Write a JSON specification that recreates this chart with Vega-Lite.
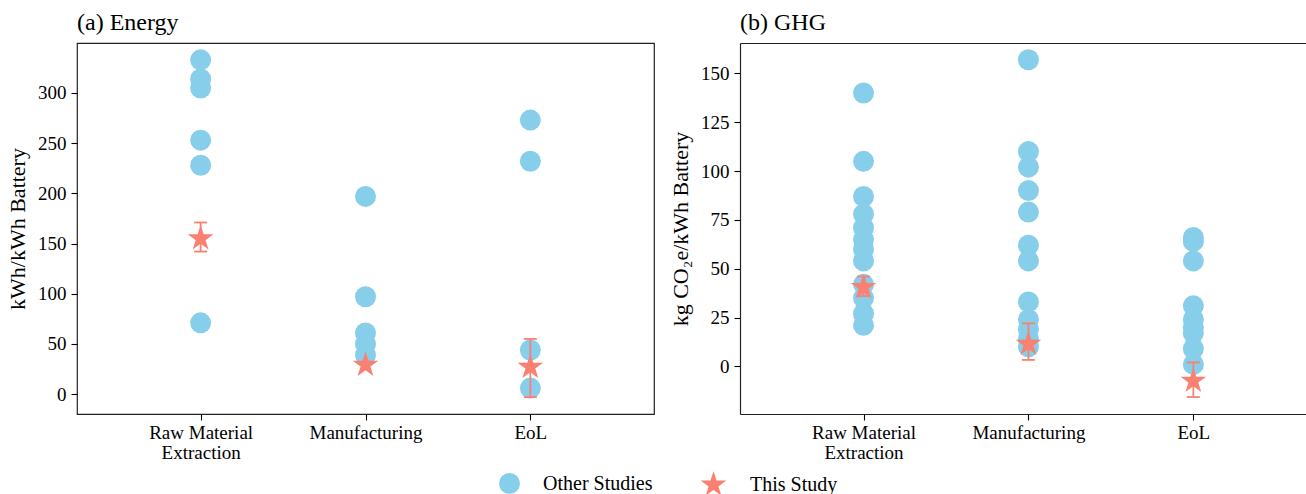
{
  "$schema": "https://vega.github.io/schema/vega-lite/v6.json",
  "background": "white",
  "autosize": {"type": "pad"},
  "padding": {"left": 5, "top": 10, "right": 0, "bottom": 0},
  "datasets": {
    "other": [
      {"panel": "Energy", "stage": "Raw Material Extraction", "value": 333, "source": "Other Studies"},
      {"panel": "Energy", "stage": "Raw Material Extraction", "value": 314, "source": "Other Studies"},
      {"panel": "Energy", "stage": "Raw Material Extraction", "value": 305, "source": "Other Studies"},
      {"panel": "Energy", "stage": "Raw Material Extraction", "value": 253, "source": "Other Studies"},
      {"panel": "Energy", "stage": "Raw Material Extraction", "value": 228, "source": "Other Studies"},
      {"panel": "Energy", "stage": "Raw Material Extraction", "value": 71, "source": "Other Studies"},
      {"panel": "Energy", "stage": "Manufacturing", "value": 197, "source": "Other Studies"},
      {"panel": "Energy", "stage": "Manufacturing", "value": 97, "source": "Other Studies"},
      {"panel": "Energy", "stage": "Manufacturing", "value": 61, "source": "Other Studies"},
      {"panel": "Energy", "stage": "Manufacturing", "value": 50, "source": "Other Studies"},
      {"panel": "Energy", "stage": "Manufacturing", "value": 39, "source": "Other Studies"},
      {"panel": "Energy", "stage": "EoL", "value": 273, "source": "Other Studies"},
      {"panel": "Energy", "stage": "EoL", "value": 232, "source": "Other Studies"},
      {"panel": "Energy", "stage": "EoL", "value": 44, "source": "Other Studies"},
      {"panel": "Energy", "stage": "EoL", "value": 6, "source": "Other Studies"},
      {"panel": "GHG", "stage": "Raw Material Extraction", "value": 140, "source": "Other Studies"},
      {"panel": "GHG", "stage": "Raw Material Extraction", "value": 105, "source": "Other Studies"},
      {"panel": "GHG", "stage": "Raw Material Extraction", "value": 87, "source": "Other Studies"},
      {"panel": "GHG", "stage": "Raw Material Extraction", "value": 78, "source": "Other Studies"},
      {"panel": "GHG", "stage": "Raw Material Extraction", "value": 71, "source": "Other Studies"},
      {"panel": "GHG", "stage": "Raw Material Extraction", "value": 65, "source": "Other Studies"},
      {"panel": "GHG", "stage": "Raw Material Extraction", "value": 60, "source": "Other Studies"},
      {"panel": "GHG", "stage": "Raw Material Extraction", "value": 54, "source": "Other Studies"},
      {"panel": "GHG", "stage": "Raw Material Extraction", "value": 42, "source": "Other Studies"},
      {"panel": "GHG", "stage": "Raw Material Extraction", "value": 35, "source": "Other Studies"},
      {"panel": "GHG", "stage": "Raw Material Extraction", "value": 27, "source": "Other Studies"},
      {"panel": "GHG", "stage": "Raw Material Extraction", "value": 21, "source": "Other Studies"},
      {"panel": "GHG", "stage": "Manufacturing", "value": 157, "source": "Other Studies"},
      {"panel": "GHG", "stage": "Manufacturing", "value": 110, "source": "Other Studies"},
      {"panel": "GHG", "stage": "Manufacturing", "value": 102, "source": "Other Studies"},
      {"panel": "GHG", "stage": "Manufacturing", "value": 90, "source": "Other Studies"},
      {"panel": "GHG", "stage": "Manufacturing", "value": 79, "source": "Other Studies"},
      {"panel": "GHG", "stage": "Manufacturing", "value": 62, "source": "Other Studies"},
      {"panel": "GHG", "stage": "Manufacturing", "value": 54, "source": "Other Studies"},
      {"panel": "GHG", "stage": "Manufacturing", "value": 33, "source": "Other Studies"},
      {"panel": "GHG", "stage": "Manufacturing", "value": 24, "source": "Other Studies"},
      {"panel": "GHG", "stage": "Manufacturing", "value": 19, "source": "Other Studies"},
      {"panel": "GHG", "stage": "Manufacturing", "value": 14, "source": "Other Studies"},
      {"panel": "GHG", "stage": "Manufacturing", "value": 10, "source": "Other Studies"},
      {"panel": "GHG", "stage": "EoL", "value": 66, "source": "Other Studies"},
      {"panel": "GHG", "stage": "EoL", "value": 64, "source": "Other Studies"},
      {"panel": "GHG", "stage": "EoL", "value": 54, "source": "Other Studies"},
      {"panel": "GHG", "stage": "EoL", "value": 31, "source": "Other Studies"},
      {"panel": "GHG", "stage": "EoL", "value": 24, "source": "Other Studies"},
      {"panel": "GHG", "stage": "EoL", "value": 20, "source": "Other Studies"},
      {"panel": "GHG", "stage": "EoL", "value": 17, "source": "Other Studies"},
      {"panel": "GHG", "stage": "EoL", "value": 9, "source": "Other Studies"},
      {"panel": "GHG", "stage": "EoL", "value": 1, "source": "Other Studies"}
    ],
    "this": [
      {"panel": "Energy", "stage": "Raw Material Extraction", "value": 155, "lo": 142, "hi": 171, "source": "This Study"},
      {"panel": "Energy", "stage": "Manufacturing", "value": 29, "lo": null, "hi": null, "source": "This Study"},
      {"panel": "Energy", "stage": "EoL", "value": 27, "lo": -3, "hi": 55, "source": "This Study"},
      {"panel": "GHG", "stage": "Raw Material Extraction", "value": 40.5, "lo": 36, "hi": 46, "source": "This Study"},
      {"panel": "GHG", "stage": "Manufacturing", "value": 11.5, "lo": 3.3, "hi": 22, "source": "This Study"},
      {"panel": "GHG", "stage": "EoL", "value": -7.5, "lo": -15.7, "hi": 2, "source": "This Study"}
    ]
  },
  "bounds": "flush",
  "spacing": 86,
  "resolve": {"scale": {"color": "shared", "shape": "shared", "size": "shared"}, "legend": {"color": "shared", "shape": "shared", "size": "shared"}},
  "hconcat": [
    {
      "width": 577,
      "height": 371,
      "title": {"text": "(a) Energy"},
      "layer": [
        {
          "data": {"name": "other"},
          "transform": [{"filter": "datum.panel === 'Energy'"}],
          "mark": {"type": "point", "filled": true, "opacity": 1, "strokeWidth": 0},
          "encoding": {
            "x": {"field": "stage", "type": "nominal", "sort": ["Raw Material Extraction", "Manufacturing", "EoL"], "scale": {"type": "point", "padding": 0.75}, "axis": {"title": null, "labelAngle": 0, "labelExpr": "datum.value === 'Raw Material Extraction' ? ['Raw Material', 'Extraction'] : datum.value"}},
            "y": {"field": "value", "type": "quantitative", "scale": {"domain": [-19.8, 349.8], "nice": false, "zero": false}, "axis": {"title": "kWh/kWh Battery", "values": [0, 50, 100, 150, 200, 250, 300]}},
            "color": {"field": "source", "type": "nominal", "scale": {"domain": ["Other Studies", "This Study"], "range": ["#87CEEB", "#FA8072"]}, "legend": {"title": null}},
            "shape": {"field": "source", "type": "nominal", "scale": {"domain": ["Other Studies", "This Study"], "range": ["circle", "M0,-1L-0.2245,-0.309L-0.9511,-0.309L-0.3633,0.118L-0.5878,0.809L0,0.382L0.5878,0.809L0.3633,0.118L0.9511,-0.309L0.2245,-0.309Z"]}, "legend": {"title": null}},
            "size": {"field": "source", "type": "nominal", "scale": {"domain": ["Other Studies", "This Study"], "range": [441, 729]}, "legend": {"title": null}}
          }
        },
        {
          "data": {"name": "this"},
          "transform": [{"filter": "datum.panel === 'Energy' && datum.lo != null"}],
          "mark": {"type": "rule", "color": "#FA8072", "strokeWidth": 1.8},
          "encoding": {
            "x": {"field": "stage", "type": "nominal", "sort": ["Raw Material Extraction", "Manufacturing", "EoL"]},
            "y": {"field": "lo", "type": "quantitative"},
            "y2": {"field": "hi"}
          }
        },
        {
          "data": {"name": "this"},
          "transform": [{"filter": "datum.panel === 'Energy' && datum.lo != null"}],
          "mark": {"type": "tick", "color": "#FA8072", "thickness": 1.8, "size": 13, "opacity": 1},
          "encoding": {
            "x": {"field": "stage", "type": "nominal", "sort": ["Raw Material Extraction", "Manufacturing", "EoL"]},
            "y": {"field": "lo", "type": "quantitative"}
          }
        },
        {
          "data": {"name": "this"},
          "transform": [{"filter": "datum.panel === 'Energy' && datum.hi != null"}],
          "mark": {"type": "tick", "color": "#FA8072", "thickness": 1.8, "size": 13, "opacity": 1},
          "encoding": {
            "x": {"field": "stage", "type": "nominal", "sort": ["Raw Material Extraction", "Manufacturing", "EoL"]},
            "y": {"field": "hi", "type": "quantitative"}
          }
        },
        {
          "data": {"name": "this"},
          "transform": [{"filter": "datum.panel === 'Energy'"}],
          "mark": {"type": "point", "filled": true, "opacity": 1, "strokeWidth": 0},
          "encoding": {
            "x": {"field": "stage", "type": "nominal", "sort": ["Raw Material Extraction", "Manufacturing", "EoL"]},
            "y": {"field": "value", "type": "quantitative"},
            "color": {"field": "source", "type": "nominal"},
            "shape": {"field": "source", "type": "nominal"},
            "size": {"field": "source", "type": "nominal"}
          }
        }
      ]
    },
    {
      "width": 566,
      "height": 371,
      "title": {"text": "(b) GHG"},
      "view": {"stroke": null},
      "resolve": {"axis": {"x": "independent"}},
      "layer": [
        {
          "data": {"name": "other"},
          "transform": [{"filter": "datum.panel === 'GHG'"}],
          "mark": {"type": "point", "filled": true, "opacity": 1, "strokeWidth": 0},
          "encoding": {
            "x": {"field": "stage", "type": "nominal", "sort": ["Raw Material Extraction", "Manufacturing", "EoL"], "scale": {"type": "point", "padding": 0.716, "align": 0.523}, "axis": {"title": null, "labelAngle": 0, "domain": true, "domainColor": "#222222", "domainWidth": 1.2, "labelExpr": "datum.value === 'Raw Material Extraction' ? ['Raw Material', 'Extraction'] : datum.value"}},
            "y": {"field": "value", "type": "quantitative", "scale": {"domain": [-24.4, 165.6], "nice": false, "zero": false}, "axis": {"title": "kg CO₂e/kWh Battery", "values": [0, 25, 50, 75, 100, 125, 150], "domain": true, "domainColor": "#222222", "domainWidth": 1.2}},
            "color": {"field": "source", "type": "nominal"},
            "shape": {"field": "source", "type": "nominal"},
            "size": {"field": "source", "type": "nominal"}
          }
        },
        {
          "data": {"name": "this"},
          "transform": [{"filter": "datum.panel === 'GHG' && datum.lo != null"}],
          "mark": {"type": "rule", "color": "#FA8072", "strokeWidth": 1.8},
          "encoding": {
            "x": {"field": "stage", "type": "nominal", "sort": ["Raw Material Extraction", "Manufacturing", "EoL"], "axis": null},
            "y": {"field": "lo", "type": "quantitative"},
            "y2": {"field": "hi"}
          }
        },
        {
          "data": {"name": "this"},
          "transform": [{"filter": "datum.panel === 'GHG' && datum.lo != null"}],
          "mark": {"type": "tick", "color": "#FA8072", "thickness": 1.8, "size": 13, "opacity": 1},
          "encoding": {
            "x": {"field": "stage", "type": "nominal", "sort": ["Raw Material Extraction", "Manufacturing", "EoL"], "axis": null},
            "y": {"field": "lo", "type": "quantitative"}
          }
        },
        {
          "data": {"name": "this"},
          "transform": [{"filter": "datum.panel === 'GHG' && datum.hi != null"}],
          "mark": {"type": "tick", "color": "#FA8072", "thickness": 1.8, "size": 13, "opacity": 1},
          "encoding": {
            "x": {"field": "stage", "type": "nominal", "sort": ["Raw Material Extraction", "Manufacturing", "EoL"], "axis": null},
            "y": {"field": "hi", "type": "quantitative"}
          }
        },
        {
          "data": {"name": "this"},
          "transform": [{"filter": "datum.panel === 'GHG'"}],
          "mark": {"type": "point", "filled": true, "opacity": 1, "strokeWidth": 0},
          "encoding": {
            "x": {"field": "stage", "type": "nominal", "sort": ["Raw Material Extraction", "Manufacturing", "EoL"], "axis": {"orient": "top", "title": null, "labels": false, "ticks": false, "domain": true, "domainColor": "#222222", "domainWidth": 1.2}},
            "y": {"field": "value", "type": "quantitative"},
            "color": {"field": "source", "type": "nominal"},
            "shape": {"field": "source", "type": "nominal"},
            "size": {"field": "source", "type": "nominal"}
          }
        }
      ]
    }
  ],
  "config": {
    "font": "Liberation Serif",
    "view": {"stroke": "#222222", "strokeWidth": 1.2},
    "title": {"anchor": "start", "fontSize": 24, "font": "Liberation Serif", "fontWeight": "normal", "color": "black", "baseline": "alphabetic", "offset": 8, "frame": "group"},
    "axis": {"labelFont": "Liberation Serif", "titleFont": "Liberation Serif", "labelFontSize": 19, "titleFontSize": 22, "titleFontWeight": "normal", "labelColor": "black", "titleColor": "black", "tickColor": "black", "tickSize": 6, "tickWidth": 1.1, "domain": false, "grid": false},
    "axisY": {"labelPadding": 5, "titlePadding": 8},
    "axisX": {"labelPadding": 3, "labelLineHeight": 20},
    "legend": {"orient": "none", "legendX": 422, "legendY": 428, "direction": "horizontal", "labelFont": "Liberation Serif", "labelFontSize": 20, "labelColor": "black", "labelOffset": 23, "columnPadding": 47, "symbolStrokeWidth": 0, "symbolOpacity": 1, "padding": 0}
  }
}
